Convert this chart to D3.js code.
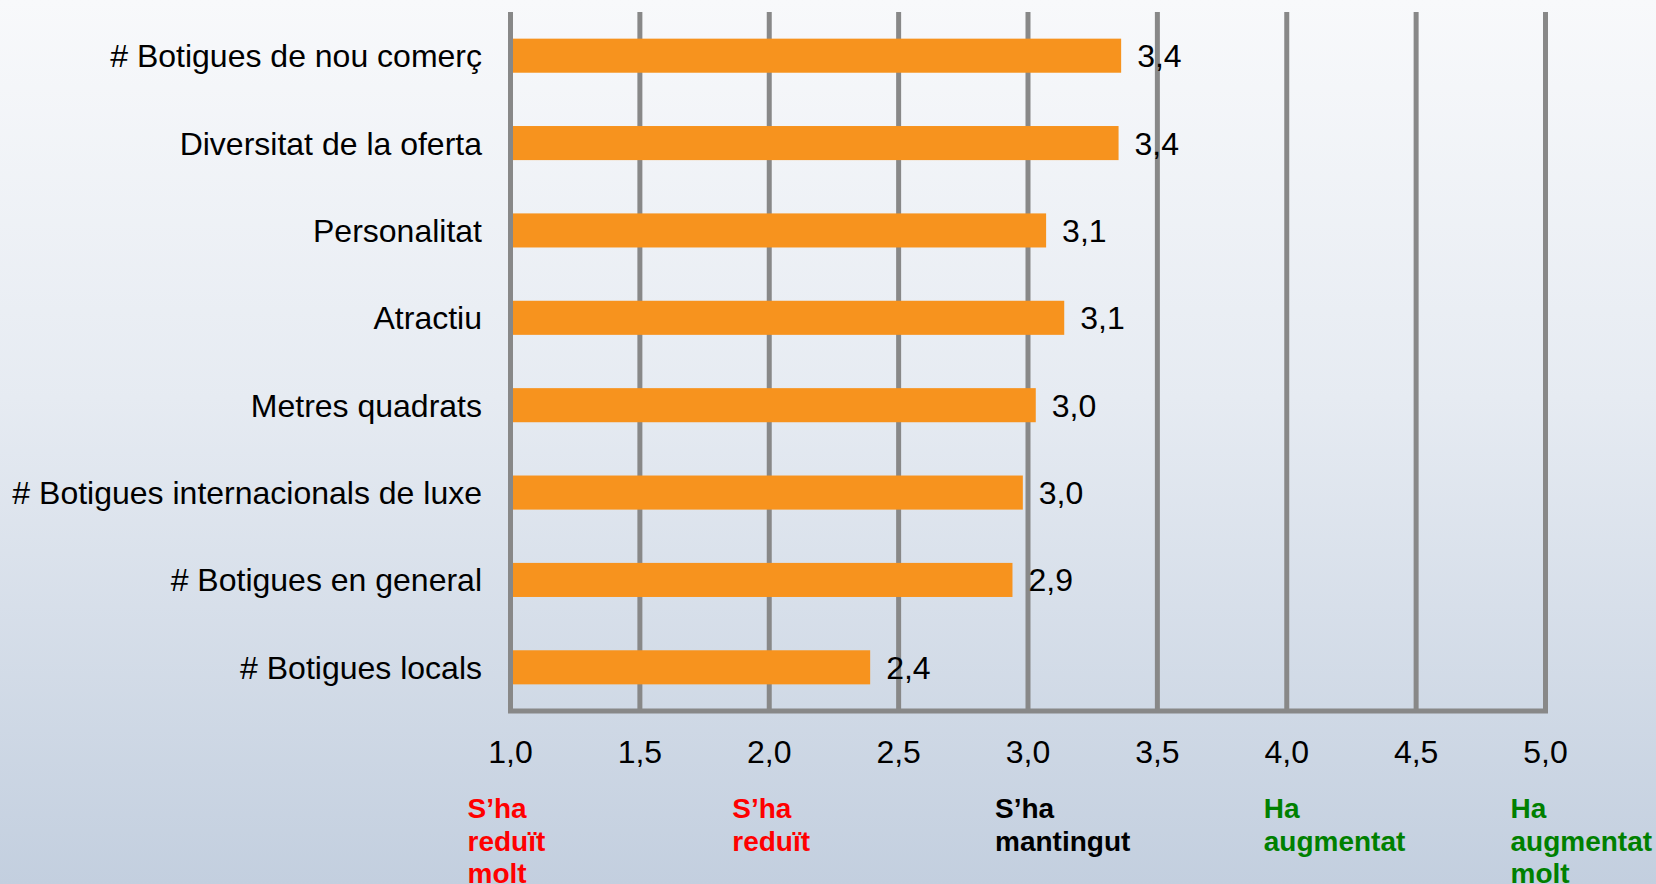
<!DOCTYPE html>
<html>
<head>
<meta charset="utf-8">
<script src="https://cdn.jsdelivr.net/npm/d3@7"></script>
<style>
  html, body { margin: 0; padding: 0; overflow: hidden; }
  svg { display: block; font-family: "Liberation Sans", Arial, sans-serif; }
</style>
</head>
<body>
<svg id="vis"></svg>
<script>
// data
var categories = [
    "# Botigues de nou comerç",
    "Diversitat de la oferta",
    "Personalitat",
    "Atractiu",
    "Metres quadrats",
    "# Botigues internacionals de luxe",
    "# Botigues en general",
    "# Botigues locals"
];
var values = [3.36, 3.35, 3.07, 3.14, 3.03, 2.98, 2.94, 2.39];
var valueLabels = ["3,4", "3,4", "3,1", "3,1", "3,0", "3,0", "2,9", "2,4"];
var tickValues = [1, 1.5, 2, 2.5, 3, 3.5, 4, 4.5, 5];
var scaleTexts = [
    ["S\u2019ha", "redu\u00eft", "molt"],
    ["S\u2019ha", "redu\u00eft"],
    ["S\u2019ha", "mantingut"],
    ["Ha", "augmentat"],
    ["Ha", "augmentat", "molt"]
];
var scaleTextValues = [1, 2, 3, 4, 5];
var scaleTextColors = ["#ff0000", "#ff0000", "#000000", "#008000", "#008000"];

// layout
var width = 1656;
var height = 884;
var scaleTextOffsets = [-43, -37, -33, -23, -35];

const svg = d3.select("#vis").attr("width", width).attr("height", height);

var defs = svg.append("defs");
var grad = defs.append("linearGradient").attr("id", "bg")
    .attr("x1", 0).attr("y1", 0).attr("x2", 0).attr("y2", 1);
grad.append("stop").attr("offset", "0%").attr("stop-color", "#f8f9fb");
grad.append("stop").attr("offset", "45%").attr("stop-color", "#e6ebf2");
grad.append("stop").attr("offset", "100%").attr("stop-color", "#c3cfdf");
svg.append("rect").attr("width", width).attr("height", height).attr("fill", "url(#bg)");

var x = d3.scaleLinear().domain([1, 5]).range([510.5, 1545.5]);
var y = d3.scaleBand().domain(categories).range([12, 711])
    .paddingInner(0.61).paddingOuter(0.305);

var gridColor = "#888888";

//vertical grid lines
svg.append("g").attr("class", "grid")
    .selectAll("line")
    .data(tickValues)
    .enter()
    .append("line")
    .attr("x1", function(d){ return x(d); })
    .attr("x2", function(d){ return x(d); })
    .attr("y1", 12)
    .attr("y2", 711)
    .attr("stroke", gridColor)
    .attr("stroke-width", 5);

//baseline
svg.append("line")
    .attr("x1", x(1) - 2.5).attr("x2", x(5) + 2.5)
    .attr("y1", 711).attr("y2", 711)
    .attr("stroke", gridColor)
    .attr("stroke-width", 5);

//bars
svg.append("g").attr("class", "bars")
    .selectAll("rect")
    .data(values)
    .enter()
    .append("rect")
    .attr("x", x(1) + 2.5)
    .attr("y", function(d, i){ return y(categories[i]); })
    .attr("width", function(d){ return x(d) - x(1) - 2.5; })
    .attr("height", y.bandwidth())
    .attr("fill", "#f7931e");

//value labels
svg.append("g").attr("class", "valueLabels")
    .selectAll("text")
    .data(values)
    .enter()
    .append("text")
    .attr("x", function(d){ return x(d) + 16; })
    .attr("y", function(d, i){ return y(categories[i]) + y.bandwidth() / 2; })
    .attr("dy", "0.36em")
    .text(function(d, i){ return valueLabels[i]; })
    .style("font-size", "32px")
    .style("fill", "#000");

//category labels
svg.append("g").attr("class", "catLabels")
    .selectAll("text")
    .data(categories)
    .enter()
    .append("text")
    .attr("x", 482)
    .attr("y", function(d){ return y(d) + y.bandwidth() / 2; })
    .attr("dy", "0.36em")
    .attr("text-anchor", "end")
    .text(function(d){ return d; })
    .style("font-size", "32px")
    .style("fill", "#000");

//tick labels
svg.append("g").attr("class", "tickLabels")
    .selectAll("text")
    .data(tickValues)
    .enter()
    .append("text")
    .attr("x", function(d){ return x(d); })
    .attr("y", 751)
    .attr("dy", "0.36em")
    .attr("text-anchor", "middle")
    .text(function(d){ return d3.format(".1f")(d).replace(".", ","); })
    .style("font-size", "32px")
    .style("fill", "#000");

//scale descriptions under the axis
var scaleGroups = svg.append("g").attr("class", "scaleTexts")
    .selectAll("text")
    .data(scaleTexts)
    .enter()
    .append("text")
    .attr("x", function(d, i){ return x(scaleTextValues[i]) + scaleTextOffsets[i]; })
    .attr("y", 808)
    .style("font-size", "28px")
    .style("font-weight", "bold")
    .style("fill", function(d, i){ return scaleTextColors[i]; });

scaleGroups.each(function(lines){
    var t = d3.select(this);
    var x0 = t.attr("x");
    lines.forEach(function(line, k){
        t.append("tspan")
            .attr("x", x0)
            .attr("y", 808 + k * 32.5)
            .attr("dy", "0.36em")
            .text(line);
    });
});
</script>
</body>
</html>
